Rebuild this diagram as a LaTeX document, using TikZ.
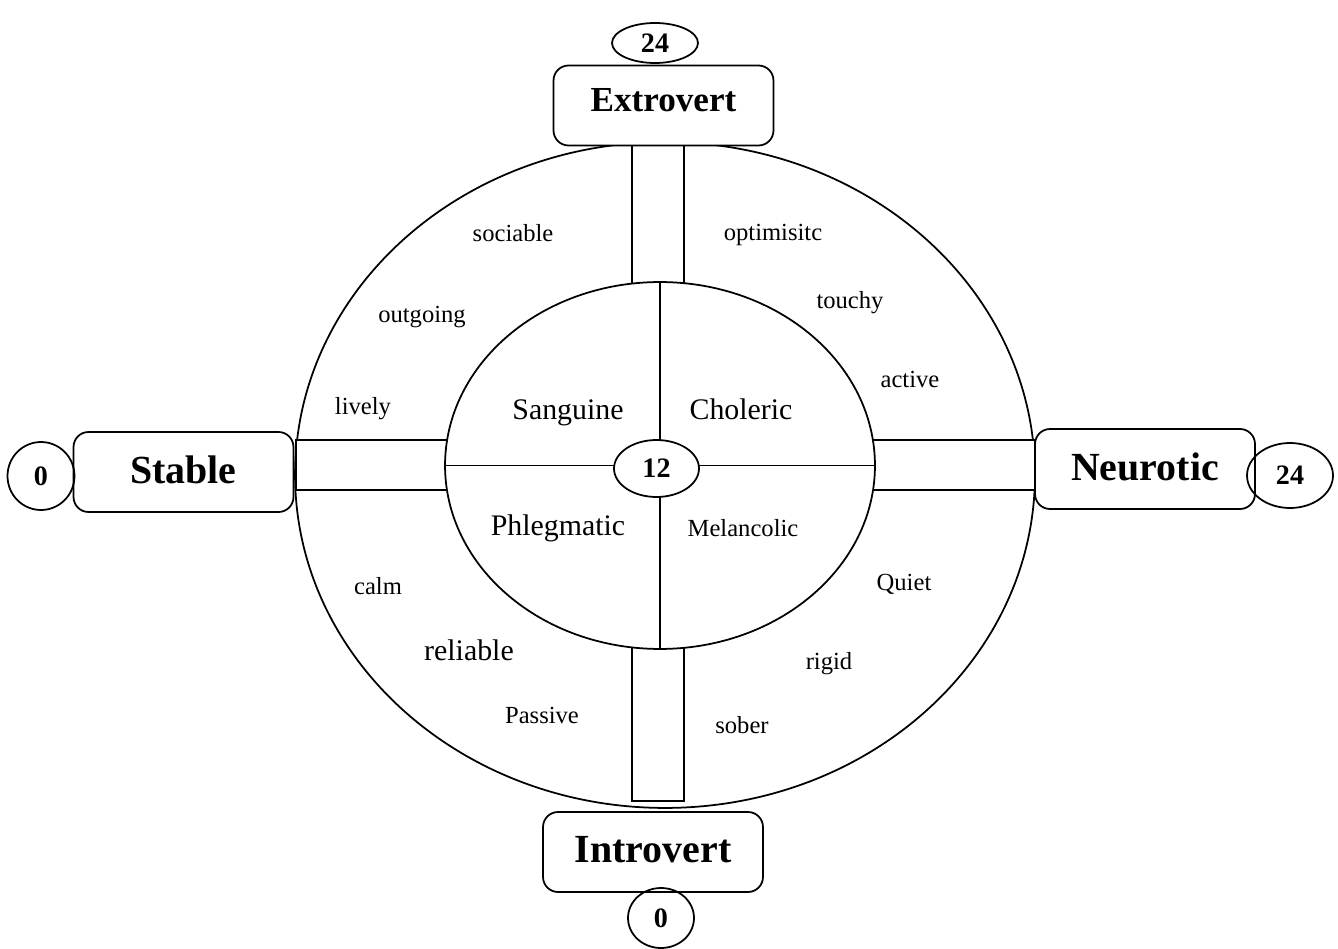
\documentclass[tikz,border=0pt]{standalone}
\usepackage{fontspec}
\setmainfont{Liberation Serif}
\usetikzlibrary{shapes.geometric}

\begin{document}
\begin{tikzpicture}[x=0.02cm, y=-0.02cm,
    pole/.style={draw=black, line width=1pt, rounded corners=0.3cm, fill=white, minimum width=4.4cm, minimum height=1.6cm, text depth=3pt, font=\fontsize{22.7}{26}\selectfont\bfseries},
    score/.style={shape=ellipse, draw=black, line width=1pt, inner sep=0pt, font=\fontsize{16}{18}\selectfont\bfseries},
    ring/.style={shape=ellipse, draw=black, line width=1pt, inner sep=0pt},
    bar/.style={draw=black, line width=1pt, fill=white},
    temper/.style={anchor=base, font=\fontsize{17}{20}\selectfont},
    trait/.style={anchor=base, font=\fontsize{14}{16}\selectfont}]

    \useasboundingbox (0,0) rectangle (1338,949);

    \node[ring, minimum width=14.8cm, minimum height=13.32cm] (outer) at (665,475) {};

    % bars
    \path[bar] (632,140) rectangle (684,300);
    \path[bar] (632,630) rectangle (684,801);
    \path[bar] (296,440) rectangle (460,490);
    \path[bar] (860,440) rectangle (1035,490);

    \node[ring, fill=white, minimum width=8.6cm, minimum height=7.34cm] (inner) at (660,465.5) {};
    \draw[line width=1pt] (inner.north) -- (inner.south);
    \draw[line width=1pt] (inner.west) -- (inner.east);
    \node[score, fill=white, minimum width=1.7cm, minimum height=1.14cm] (mid) at (656.5,468.5) {12};

    \node[pole, text depth=6pt, font=\fontsize{20}{24}\selectfont\bfseries] (extro) at (663.5,105.5) {Extrovert};
    \node[pole] (stable) at (183.5,472) {Stable};
    \node[pole] (neuro) at (1145,469) {Neurotic};
    \node[pole] (intro) at (653,852) {Introvert};

    \node[score, minimum width=1.72cm, minimum height=0.8cm] (s-extro) at (655,43) {24};
    \node[score, minimum width=1.34cm, minimum height=1.36cm] (s-stable) at (41,476) {0};
    \node[score, minimum width=1.72cm, minimum height=1.3cm] (s-neuro) at (1290,475.5) {24};
    \node[score, minimum width=1.32cm, minimum height=1.2cm] (s-intro) at (661,918) {0};

    \node[temper] (sanguine) at (568,419) {Sanguine};
    \node[temper] (choleric) at (741,419) {Choleric};
    \node[temper] (phlegmatic) at (558,535) {Phlegmatic};
    \node[trait] (melancolic) at (743,536) {Melancolic};

    \node[trait] (sociable) at (513,242) {sociable};
    \node[trait] (optimisitc) at (773,241) {optimisitc};
    \node[trait] (outgoing) at (422,323) {outgoing};
    \node[trait] (touchy) at (850,309) {touchy};
    \node[trait] (active) at (910,387) {active};
    \node[trait] (lively) at (363,414) {lively};
    \node[trait] (calm) at (378,594) {calm};
    \node[trait] (quiet) at (904,590) {Quiet};
    \node[temper] (reliable) at (469,660) {reliable};
    \node[trait] (rigid) at (829,669) {rigid};
    \node[trait] (passive) at (542,723) {Passive};
    \node[trait] (sober) at (742,733) {sober};

\end{tikzpicture}
\end{document}
